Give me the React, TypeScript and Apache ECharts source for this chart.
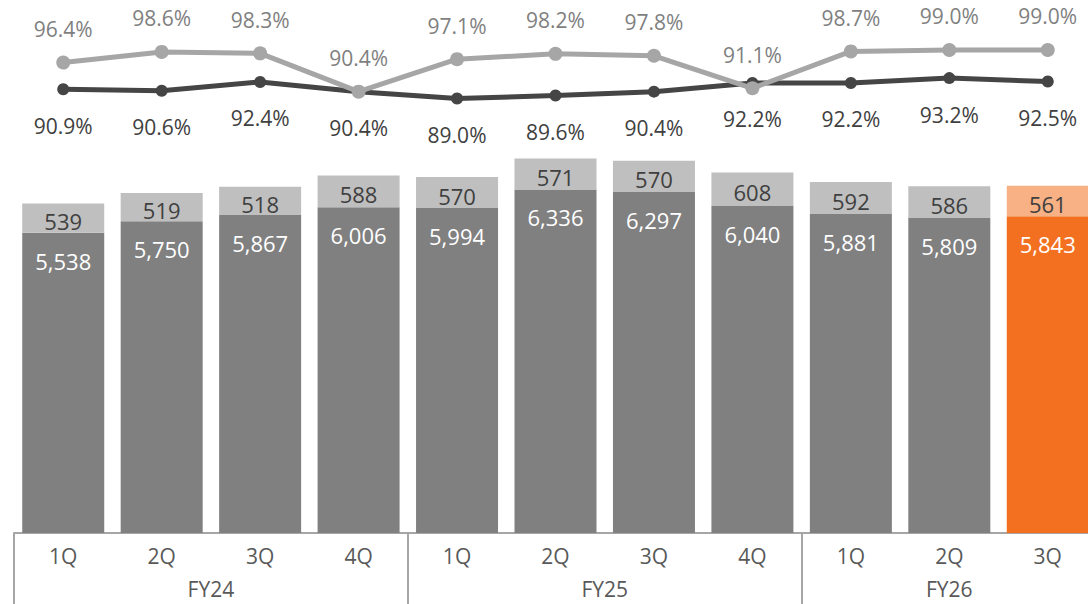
import React, { useEffect, useRef } from "react";
import * as echarts from "echarts";

const quarters = ["1Q", "2Q", "3Q", "4Q", "1Q", "2Q", "3Q", "4Q", "1Q", "2Q", "3Q"];
const fiscalYears = ["FY24", "FY25", "FY26"];
const baseValues = [5538, 5750, 5867, 6006, 5994, 6336, 6297, 6040, 5881, 5809, 5843];
const topValues = [539, 519, 518, 588, 570, 571, 570, 608, 592, 586, 561];
const lightRate = [96.4, 98.6, 98.3, 90.4, 97.1, 98.2, 97.8, 91.1, 98.7, 99.0, 99.0];
const darkRate = [90.9, 90.6, 92.4, 90.4, 89.0, 89.6, 90.4, 92.2, 92.2, 93.2, 92.5];

const FONT = "'Open Sans', 'Noto Sans', sans-serif";

export default function App() {
  const ref = useRef<HTMLDivElement>(null);
  useEffect(() => {
    document.body.style.margin = "0";
    document.body.style.overflow = "hidden";
    const chart = echarts.init(ref.current!, null, { renderer: "svg" });
    const last = baseValues.length - 1;
    const fmt = (v: number) => v.toLocaleString("en-US");
    const groupLabelAt: Record<string, string> = { "2": fiscalYears[0], "6": fiscalYears[1], "9.5": fiscalYears[2] };
    chart.setOption({
      animation: false,
      grid: { left: 14, right: 2.5, top: 0, bottom: 71, containLabel: false },
      xAxis: [
        {
          type: "category",
          data: quarters,
          boundaryGap: true,
          axisLine: { show: true, lineStyle: { color: "#a6a6a6", width: 2 } },
          axisTick: {
            show: true,
            interval: (i: number) => i === 0 || i === 4 || i === 8,
            length: 71,
            lineStyle: { color: "#a6a6a6", width: 2 },
          },
          axisLabel: { interval: 0, margin: 12, fontSize: 21, color: "#595959", fontFamily: FONT },
        },
        {
          type: "value",
          position: "bottom",
          min: 0,
          max: 11,
          interval: 0.5,
          axisLine: { show: false },
          axisTick: { show: false },
          splitLine: { show: false },
          axisLabel: {
            margin: 45,
            fontSize: 21,
            color: "#595959",
            fontFamily: FONT,
            formatter: (v: number) => groupLabelAt[String(v)] || "",
          },
        },
      ],
      yAxis: [
        { type: "value", min: 0, max: 9830, show: false },
        { type: "value", min: -0.6, max: 109.3, show: false },
      ],
      series: [
        {
          type: "bar",
          stack: "s",
          barWidth: 82,
          data: baseValues.map((v, i) => ({
            value: v,
            itemStyle: { color: i === last ? "#f37021" : "#808080" },
          })),
          label: {
            show: true,
            position: "insideTop",
            distance: 17,
            fontSize: 22,
            color: "#ffffff",
            fontFamily: FONT,
            formatter: (p: any) => fmt(p.value),
          },
        },
        {
          type: "bar",
          stack: "s",
          barWidth: 82,
          data: topValues.map((v, i) => ({
            value: v,
            itemStyle: { color: i === last ? "#f8b085" : "#bfbfbf" },
          })),
          label: {
            show: true,
            position: "inside",
            offset: [0, 3],
            fontSize: 22,
            color: "#404040",
            fontFamily: FONT,
            formatter: (p: any) => fmt(p.value),
          },
        },
        {
          type: "line",
          yAxisIndex: 1,
          data: darkRate,
          symbol: "circle",
          symbolSize: 12,
          lineStyle: { color: "#454545", width: 5 },
          itemStyle: { color: "#454545" },
          label: {
            show: true,
            position: "bottom",
            distance: 20,
            fontSize: 21,
            color: "#404040",
            fontFamily: FONT,
            formatter: (p: any) => p.value.toFixed(1) + "%",
          },
          z: 3,
        },
        {
          type: "line",
          yAxisIndex: 1,
          data: lightRate,
          symbol: "circle",
          symbolSize: 14,
          lineStyle: { color: "#a6a6a6", width: 5 },
          itemStyle: { color: "#a6a6a6" },
          label: {
            show: true,
            position: "top",
            distance: 16,
            fontSize: 21,
            color: "#7f7f7f",
            fontFamily: FONT,
            formatter: (p: any) => p.value.toFixed(1) + "%",
          },
          z: 4,
        },
      ],
    });
    return () => chart.dispose();
  }, []);
  return <div ref={ref} style={{ width: 1100, height: 604 }} />;
}
